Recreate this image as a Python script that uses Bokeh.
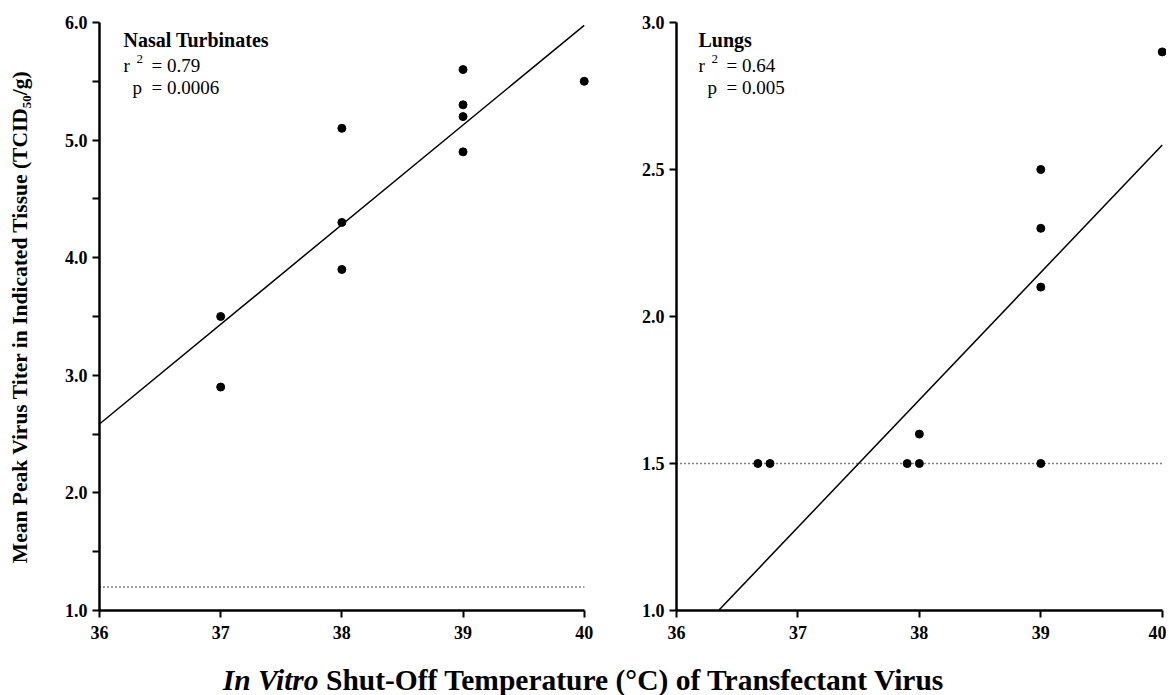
import numpy as np
from bokeh.plotting import figure
from bokeh.models import FixedTicker, Label, Div, PrintfTickFormatter
from bokeh.layouts import row, column
from bokeh.embed import file_html
from bokeh.resources import INLINE

# ---------------- data ----------------
x_ticks = [36, 37, 38, 39, 40]

# Nasal turbinates: shut-off temperature (nominal), plotted position, titer
nt_temp = [37, 37, 38, 38, 38, 39, 39, 39, 39, 40]
nt_temp_plot = [37, 37, 38, 38, 38, 39, 39, 39, 39, 40]
nt_titer = [3.5, 2.9, 5.1, 4.3, 3.9, 5.6, 5.3, 5.2, 4.9, 5.5]
nt_limit = 1.2
nt_yticks = [1.0, 2.0, 3.0, 4.0, 5.0, 6.0]
nt_yminor = [1.5, 2.5, 3.5, 4.5, 5.5]
nt_title = "Nasal Turbinates"
nt_r2 = "0.79"
nt_p = "0.0006"

# Lungs
lu_temp = [37, 37, 38, 38, 38, 39, 39, 39, 39, 40]
lu_temp_plot = [36.67, 36.77, 37.9, 38.0, 38.0, 39, 39, 39, 39, 40]
lu_titer = [1.5, 1.5, 1.5, 1.5, 1.6, 2.5, 2.3, 2.1, 1.5, 2.9]
lu_limit = 1.5
lu_yticks = [1.0, 1.5, 2.0, 2.5, 3.0]
lu_yminor = []
lu_title = "Lungs"
lu_r2 = "0.64"
lu_p = "0.005"

y_label = "Mean Peak Virus Titer in Indicated Tissue (TCID\u2085\u2080/g)"
x_label_italic = "In Vitro"
x_label_rest = " Shut-Off Temperature (\u00b0C) of Transfectant Virus"

FONT = "Liberation Serif"


def make_panel(xs, xplot, ys, limit, yticks, yminor, title, r2, p, width_px, left_border,
               right_border, xend, ylab=None, dx=0):
    ymin, ymax = yticks[0], yticks[-1]
    f = figure(frame_width=width_px, frame_height=588,
               x_range=(x_ticks[0], xend), y_range=(ymin, ymax),
               min_border_left=left_border, min_border_right=right_border,
               min_border_top=22, min_border_bottom=40,
               output_backend="svg", toolbar_location=None,
               background_fill_color=None, border_fill_color=None)
    f.outline_line_color = None
    f.grid.visible = False

    # axes
    for ax in (f.xaxis[0], f.yaxis[0]):
        ax.axis_line_width = 2.5
        ax.axis_line_color = "#000000"
        ax.major_tick_line_width = 2
        ax.minor_tick_line_width = 2
        ax.major_tick_line_color = "#000000"
        ax.minor_tick_line_color = "#000000"
        ax.major_tick_out = 7
        ax.major_tick_in = 0
        ax.minor_tick_out = 7
        ax.minor_tick_in = 0
        ax.major_label_text_font = FONT
        ax.major_label_text_font_style = "bold"
        ax.major_label_text_font_size = "18px"
        ax.major_label_text_color = "black"
    f.xaxis[0].ticker = FixedTicker(ticks=x_ticks, minor_ticks=[])
    f.xaxis[0].bounds = (x_ticks[0], x_ticks[-1])
    f.xaxis[0].major_label_standoff = 8
    f.yaxis[0].ticker = FixedTicker(ticks=yticks, minor_ticks=yminor)
    f.yaxis[0].formatter = PrintfTickFormatter(format="%.1f")
    f.yaxis[0].major_label_standoff = 5
    if ylab:
        f.yaxis[0].axis_label = ylab
        f.yaxis[0].axis_label_text_font = FONT
        f.yaxis[0].axis_label_text_font_style = "bold"
        f.yaxis[0].axis_label_text_font_size = "21.5px"
        f.yaxis[0].axis_label_text_color = "black"
        f.yaxis[0].axis_label_standoff = 30

    # detection limit (dotted)
    f.line([x_ticks[0], x_ticks[-1]], [limit, limit], line_color="black",
           line_width=1.4, line_dash="1 3")

    # regression line (fit on nominal temperatures)
    m, b = np.polyfit(xs, ys, 1)
    x0 = max(x_ticks[0], (ymin - b) / m)
    x1 = min(x_ticks[-1], (ymax - b) / m)
    f.line([x0, x1], [m * x0 + b, m * x1 + b], line_color="black", line_width=1.5)

    # points
    f.scatter(xplot, ys, size=8, color="black")

    # annotations
    def lab(text, xo, yo, size="19px", style="normal"):
        f.add_layout(Label(x=x_ticks[0], y=ymax, x_offset=xo + dx, y_offset=yo,
                           text=text, text_font=FONT, text_font_size=size,
                           text_font_style=style, text_color="black",
                           text_baseline="alphabetic", text_align="left"))

    lab(title, 24, -17, size="20px", style="bold")
    lab("r", 24, -43)
    lab("2", 37, -36, size="13px")
    lab("= " + r2, 52, -43)
    lab("p", 33, -65)
    lab("= " + p, 52, -65)
    return f


p1 = make_panel(nt_temp, nt_temp_plot, nt_titer, nt_limit, nt_yticks, nt_yminor, nt_title,
                nt_r2, nt_p, width_px=492, left_border=99, right_border=19, xend=40.06,
                ylab=y_label)
p2 = make_panel(lu_temp, lu_temp_plot, lu_titer, lu_limit, lu_yticks, lu_yminor, lu_title,
                lu_r2, lu_p, width_px=490, left_border=66, right_border=0, xend=40.035, dx=-2)

xlab = Div(text="<i>" + x_label_italic + "</i>" + x_label_rest,
           width=1166, height=45, margin=(0, 0, 0, 0),
           styles={"text-align": "center", "font-family": "'Liberation Serif'",
                   "font-weight": "bold", "font-size": "29.5px", "color": "black",
                   "padding-top": "14px", "box-sizing": "border-box",
                   "line-height": "1.1"})

layout = column(row(p1, p2), xlab)

open("out.html", "w").write(file_html(layout, INLINE))
